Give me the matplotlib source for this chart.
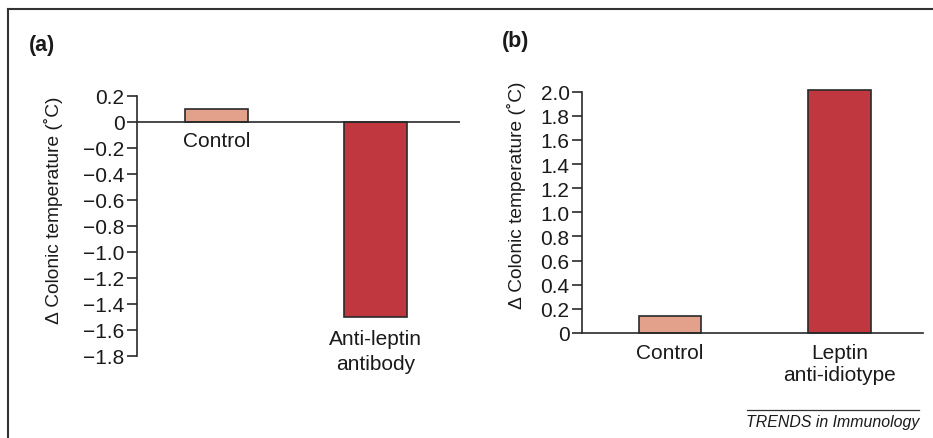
import matplotlib.pyplot as plt
from matplotlib.lines import Line2D

plt.rcParams['font.family'] = ['Liberation Sans', 'DejaVu Sans']

# panel (a)
cats_a = ["Control", "Anti-leptin\nantibody"]
vals_a = [0.1, -1.5]
ticks_a = [0.2, 0, -0.2, -0.4, -0.6, -0.8, -1.0, -1.2, -1.4, -1.6, -1.8]

# panel (b)
cats_b = ["Control", "Leptin\nanti-idiotype"]
vals_b = [0.14, 2.01]
ticks_b = [0, 0.2, 0.4, 0.6, 0.8, 1.0, 1.2, 1.4, 1.6, 1.8, 2.0]

colors = ["#E3A08A", "#C1373F"]
edge = "#2a2a2a"
txt = "#1a1a1a"
ylabel = "\u0394 Colonic temperature (\u02daC)"
FS = 15

W, H = 933, 439
fig = plt.figure(figsize=(W / 100, H / 100), dpi=100)


def fmt(v):
  if v == 0:
    return "0"
  return ("%.1f" % v).replace("-", "\u2212")


def style_axis(ax, ticks):
  for s in ["top", "right", "bottom"]:
    ax.spines[s].set_visible(False)
  ax.spines["left"].set_linewidth(1.2)
  ax.spines["left"].set_color(edge)
  ax.set_yticks(ticks)
  ax.set_yticklabels([fmt(t) for t in ticks], fontsize=FS, color=txt)
  ax.tick_params(axis="y", direction="out", length=7, width=1.2, color=edge, pad=2)
  ax.patch.set_alpha(0)


## (a)
ax1 = fig.add_axes([137 / W, (H - 357) / H, 323 / W, 260 / H])
x = [0, 1]
ax1.bar(x, vals_a, width=0.4, color=colors, edgecolor=edge, linewidth=1.2, zorder=2)
ax1.axhline(0, color=edge, linewidth=1.2, zorder=3)
ax1.set_xlim(-0.5, 1.53)
ax1.set_ylim(-1.8, 0.2)
ax1.set_xticks([])
style_axis(ax1, ticks_a)
ax1.text(0, -0.14, cats_a[0], ha="center", va="center", fontsize=FS, color=txt)
ax1.text(1, -1.76, cats_a[1], ha="center", va="center", fontsize=FS, color=txt,
         linespacing=1.4)
fig.text(54 / W, 1 - 210 / H, ylabel, rotation=90, ha="center", va="center",
         fontsize=13.8, color=txt)
fig.text(29 / W, 1 - 45 / H, "(a)", ha="left", va="center", fontsize=15.5,
         fontweight="bold", color=txt)

## (b)
ax2 = fig.add_axes([582 / W, (H - 334) / H, 341 / W, 241.3 / H])
bars = ax2.bar(x, vals_b, width=0.37, color=colors, edgecolor=edge, linewidth=1.2, zorder=2)
for b in bars:
  b.set_clip_on(False)
ax2.set_xlim(-0.52, 1.493)
ax2.set_ylim(0, 2.0)
style_axis(ax2, ticks_b)
ax2.spines["bottom"].set_visible(True)
ax2.spines["bottom"].set_linewidth(1.2)
ax2.spines["bottom"].set_color(edge)
ax2.spines["bottom"].set_zorder(3)
ax2.set_xticks(x)
ax2.set_xticklabels(cats_b, fontsize=FS, color=txt, linespacing=1.25, va="top")
ax2.tick_params(axis="x", length=0, pad=7)
fig.text(517 / W, 1 - 195 / H, ylabel, rotation=90, ha="center", va="center",
         fontsize=13.8, color=txt)
fig.text(502 / W, 1 - 41 / H, "(b)", ha="left", va="center", fontsize=15.5,
         fontweight="bold", color=txt)

## frame and credit
fig.add_artist(Line2D([8 / W, 1], [1 - 10 / H, 1 - 10 / H], color="#333333", linewidth=1.5))
fig.add_artist(Line2D([8 / W, 8 / W], [0, 1 - 10 / H], color="#333333", linewidth=1.5))
fig.add_artist(Line2D([747 / W, 919 / W], [1 - 411 / H, 1 - 411 / H], color="#333333", linewidth=0.9))
fig.text(919 / W, 1 - 423 / H, "TRENDS in Immunology", ha="right", va="center",
         fontsize=11.4, style="italic", color=txt)

fig.savefig("out.png", dpi=100)
